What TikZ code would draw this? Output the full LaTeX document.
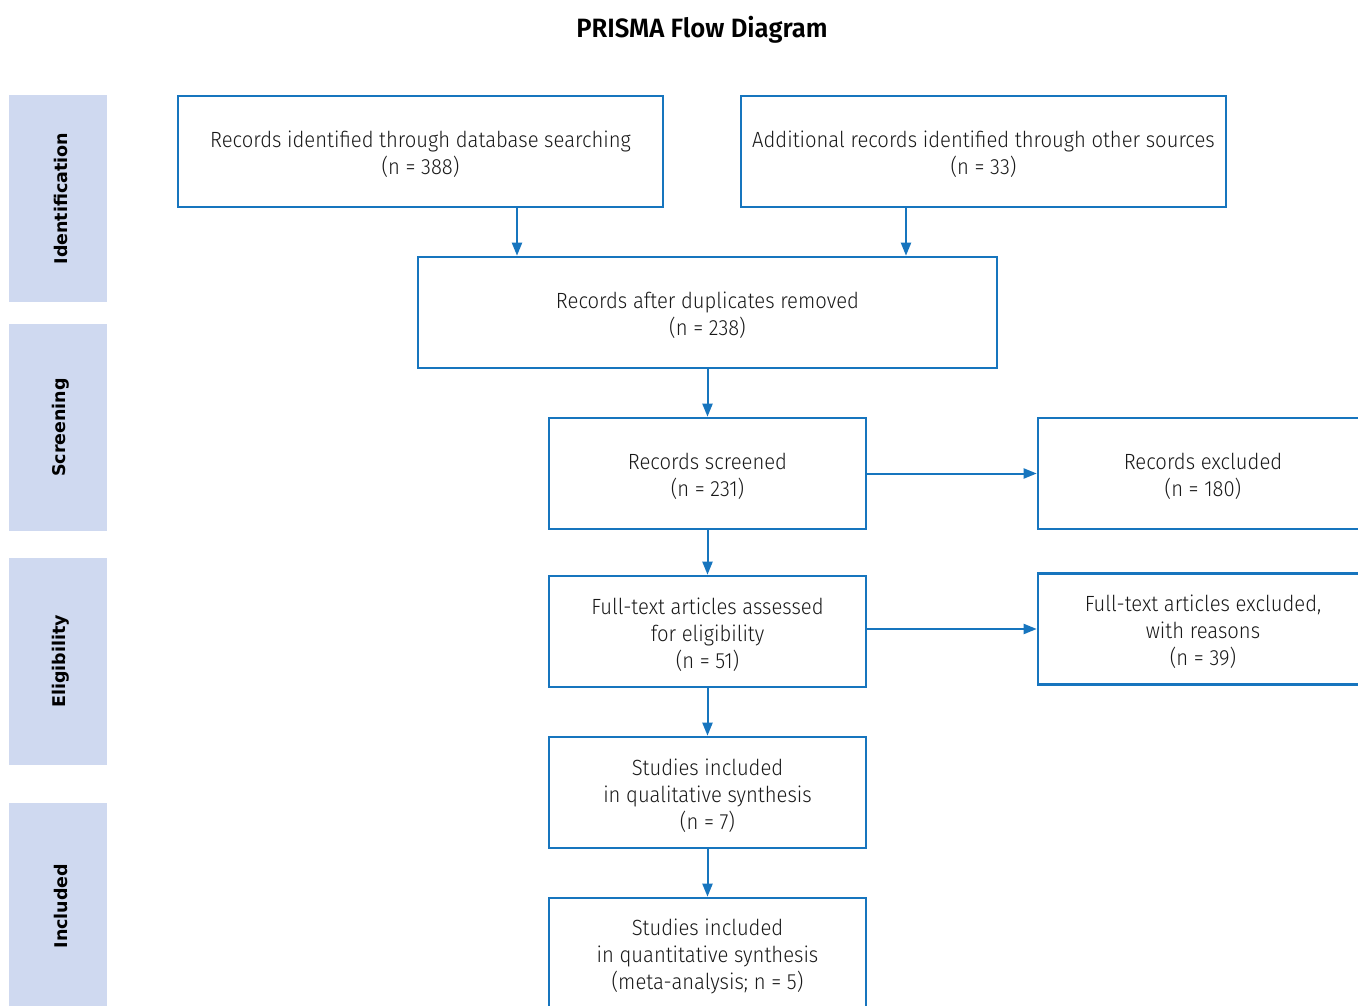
\documentclass[tikz,border=0pt]{standalone}
\usepackage{fontspec}
\setmainfont{Fira Sans Light}[FakeStretch=0.92, BoldFont={Fira Sans SemiBold}, BoldFeatures={FakeStretch=0.97}]
\newfontfamily\sidefont{DejaVu Sans}
\usetikzlibrary{arrows.meta}
\definecolor{pblue}{RGB}{23,117,190}
\definecolor{band}{RGB}{207,217,240}
\begin{document}
\begin{tikzpicture}[x=1pt,y=-1pt,
  box/.style={draw=pblue, line width=2.6pt, rectangle, inner sep=0pt},
  boxtext/.style={align=center, inner sep=0pt, yshift=-3pt,
    font=\fontsize{22}{27}\selectfont, text=black!90},
  arr/.style={draw=pblue, line width=2pt, -{Triangle[length=13pt,width=10pt]}},
  bandlab/.style={font=\sidefont\bfseries\fontsize{17.5}{22}\selectfont, rotate=90, text=black}]
\useasboundingbox (0,0) rectangle (1358,1006);
\clip (0,0) rectangle (1358,1006);
% bands
\fill[band] (9,95) rectangle (107,302);
\fill[band] (9,324) rectangle (107,531);
\fill[band] (9,558) rectangle (107,765);
\fill[band] (9,803) rectangle (107,1010);
\node[bandlab] (lid) at (61,198.5) {Identification};
\node[bandlab] (lsc) at (61,427.5) {Screening};
\node[bandlab] (lel) at (61,661.5) {Eligibility};
\node[bandlab] (lin) at (61,906) {Included};
% title
\node[font=\bfseries\fontsize{26.5}{30}\selectfont] (title) at (702,30) {PRISMA Flow Diagram};
% boxes
\node[box, minimum width=485pt, minimum height=111pt,
  label={[boxtext]center:{Records identified through database searching\\(n = 388)}}] (b1) at (420.5,151.5) {};
\node[box, minimum width=485pt, minimum height=111pt,
  label={[boxtext]center:{Additional records identified through other sources\\(n = 33)}}] (b2) at (983.5,151.5) {};
\node[box, minimum width=579pt, minimum height=111pt,
  label={[boxtext]center:{Records after duplicates removed\\(n = 238)}}] (b3) at (707.5,312.5) {};
\node[box, minimum width=317pt, minimum height=111pt,
  label={[boxtext]center:{Records screened\\(n = 231)}}] (b4) at (707.5,473.5) {};
\node[box, minimum width=330pt, minimum height=111pt,
  label={[boxtext]center:{Records excluded\\(n = 180)}}] (b5) at (1203,473.5) {};
\node[box, minimum width=317pt, minimum height=111pt,
  label={[boxtext]center:{Full-text articles assessed\\for eligibility\\(n = 51)}}] (b6) at (707.5,631.5) {};
\node[box, minimum width=330pt, minimum height=111pt,
  label={[boxtext]center:{Full-text articles excluded,\\with reasons\\(n = 39)}}] (b7) at (1203,629) {};
\node[box, minimum width=317pt, minimum height=111pt,
  label={[boxtext]center:{Studies included\\in qualitative synthesis\\(n = 7)}}] (b8) at (707.5,792.5) {};
\node[box, minimum width=317pt, minimum height=111pt,
  label={[boxtext]center:{Studies included\\in quantitative synthesis\\(meta-analysis; n = 5)}}] (b9) at (707.5,953.5) {};
% connectors
\draw[arr] (b1.south -| 517,0) -- (b3.north -| 517,0);
\draw[arr] (b2.south -| 906,0) -- (b3.north -| 906,0);
\draw[arr] (b3.south -| b4) -- (b4.north);
\draw[arr] (b4.east) -- (b5.west |- b4.east);
\draw[arr] (b4.south) -- (b6.north);
\draw[arr] (b6.east |- b7.west) -- (b7.west);
\draw[arr] (b6.south) -- (b8.north);
\draw[arr] (b8.south) -- (b9.north);
\end{tikzpicture}
\end{document}
